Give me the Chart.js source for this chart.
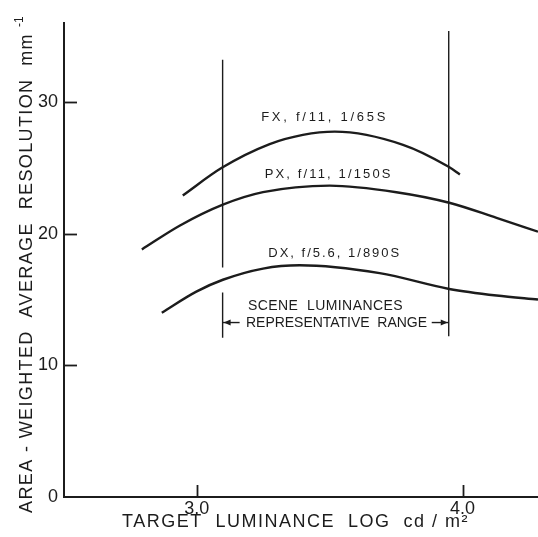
<!DOCTYPE html>
<html>
<head>
<meta charset="utf-8">
<script src="https://cdn.jsdelivr.net/npm/chart.js@4/dist/chart.umd.min.js"></script>
<style>
  html, body { margin: 0; padding: 0; background: #ffffff; }
  #wrap { width: 538px; height: 537px; }
</style>
</head>
<body>
<div id="wrap"><canvas id="c" width="538" height="537"></canvas></div>
<script>
// Target luminance (log cd/m2) and area-weighted average resolution (mm^-1)
const fxLum = [2.947, 3.094, 3.274, 3.399, 3.519, 3.776, 3.946, 3.990];
const fxRes = [22.9, 25.0, 26.8, 27.5, 27.75, 26.75, 25.1, 24.5];

const pxLum = [2.793, 2.935, 3.098, 3.249, 3.500, 3.751, 3.950, 4.128, 4.284];
const pxRes = [18.8, 20.6, 22.2, 23.15, 23.65, 23.15, 22.35, 21.2, 20.15];

const dxLum = [2.868, 2.998, 3.098, 3.249, 3.387, 3.688, 3.950, 4.128, 4.284];
const dxRes = [14.0, 15.6, 16.5, 17.35, 17.6, 17.0, 15.8, 15.3, 15.0];

const curveLabels = ['FX, f/11, 1/65S', 'PX, f/11, 1/150S', 'DX, f/5.6, 1/890S'];

// Representative range of scene luminances
const rangeLow = 3.097;
const rangeHigh = 3.948;

const xTickValues = [3.0, 4.0];
const yTickValues = [0, 10, 20, 30];

const xTitle = 'TARGET  LUMINANCE  LOG  cd / m²';
const yTitle = 'AREA - WEIGHTED  AVERAGE  RESOLUTION  mm';
const yTitleSup = '-1';
const rangeTitle1 = 'SCENE  LUMINANCES';
const rangeTitle2 = 'REPRESENTATIVE  RANGE';

const ink = '#1c1c1c';
const FONT = '"Liberation Sans", Arial, sans-serif';

const pts = (xs, ys) => xs.map((v, i) => ({ x: v, y: ys[i] }));

function curve(data) {
  return {
    data, borderColor: ink, borderWidth: 2.4, pointRadius: 0,
    cubicInterpolationMode: 'monotone', fill: false
  };
}
function rule(data) {
  return { data, borderColor: ink, borderWidth: 1.4, pointRadius: 0, tension: 0, fill: false };
}

// Draw text stretched with letter spacing so it spans a given width
function spaced(ctx, text, x0, y0, width) {
  ctx.letterSpacing = '0px';
  const w = ctx.measureText(text).width;
  const n = [...text].length;
  ctx.letterSpacing = ((width - w) / n) + 'px';
  ctx.textAlign = 'left';
  ctx.fillText(text, x0, y0);
  ctx.letterSpacing = '0px';
}

const annotate = {
  id: 'annotate',
  afterDatasetsDraw(chart) {
    const { ctx, chartArea: a, scales: { x, y } } = chart;
    ctx.save();
    ctx.strokeStyle = ink;
    ctx.fillStyle = ink;
    ctx.lineWidth = 1.8;

    // inward tick marks
    yTickValues.forEach(v => {
      if (v === 0) return;
      const py = Math.round(y.getPixelForValue(v)) + 0.5;
      ctx.beginPath(); ctx.moveTo(a.left, py); ctx.lineTo(a.left + 13, py); ctx.stroke();
    });
    xTickValues.forEach(v => {
      const px = Math.round(x.getPixelForValue(v)) + 0.5;
      ctx.beginPath(); ctx.moveTo(px, a.bottom); ctx.lineTo(px, a.bottom - 12); ctx.stroke();
    });

    // curve labels
    ctx.textBaseline = 'middle';
    ctx.font = '13px ' + FONT;
    const labelAt = [[3.481, 28.86, 127], [3.496, 24.47, 128], [3.519, 18.5, 133]];
    curveLabels.forEach((t, i) => {
      const [lx, ly, w] = labelAt[i];
      spaced(ctx, t, x.getPixelForValue(lx) - w / 2, y.getPixelForValue(ly), w);
    });

    // range caption and arrows
    ctx.font = '14px ' + FONT;
    spaced(ctx, rangeTitle1, 248, y.getPixelForValue(14.53), 155);
    spaced(ctx, rangeTitle2, 246, y.getPixelForValue(13.22), 181);
    const ay = y.getPixelForValue(13.25);
    const xl = x.getPixelForValue(rangeLow), xr = x.getPixelForValue(rangeHigh);
    ctx.lineWidth = 1.4;
    ctx.beginPath(); ctx.moveTo(xl, ay); ctx.lineTo(xl + 17, ay); ctx.stroke();
    ctx.beginPath(); ctx.moveTo(xr - 17, ay); ctx.lineTo(xr, ay); ctx.stroke();
    ctx.beginPath(); ctx.moveTo(xl + 1, ay); ctx.lineTo(xl + 8, ay - 3); ctx.lineTo(xl + 8, ay + 3); ctx.closePath(); ctx.fill();
    ctx.beginPath(); ctx.moveTo(xr - 1, ay); ctx.lineTo(xr - 8, ay - 3); ctx.lineTo(xr - 8, ay + 3); ctx.closePath(); ctx.fill();

    // axis titles
    ctx.font = '18px ' + FONT;
    ctx.textBaseline = 'middle';
    spaced(ctx, xTitle, 122, 522, 347);

    ctx.translate(27, 0);
    ctx.rotate(-Math.PI / 2);
    spaced(ctx, yTitle, -513, 0, 480);
    ctx.font = '12px ' + FONT;
    ctx.fillText(yTitleSup, -27, -7);
    ctx.restore();
  }
};

new Chart(document.getElementById('c'), {
  type: 'line',
  data: {
    datasets: [
      curve(pts(fxLum, fxRes)),
      curve(pts(pxLum, pxRes)),
      curve(pts(dxLum, dxRes)),
      rule([{ x: rangeLow, y: 33.2 }, { x: rangeLow, y: 17.43 }]),
      rule([{ x: rangeLow, y: 15.53 }, { x: rangeLow, y: 12.1 }]),
      rule([{ x: rangeHigh, y: 35.4 }, { x: rangeHigh, y: 12.2 }])
    ]
  },
  options: {
    responsive: false,
    animation: false,
    events: [],
    layout: { padding: { top: 23, right: 0, left: 0, bottom: 0 } },
    plugins: { legend: { display: false }, tooltip: { enabled: false } },
    scales: {
      x: {
        type: 'linear', min: 2.5, max: 4.284,
        grid: { display: false, drawTicks: false },
        border: { display: true, color: ink, width: 2 },
        afterBuildTicks: s => { s.ticks = xTickValues.map(v => ({ value: v })); },
        afterFit: s => { s.height = 40; },
        ticks: {
          color: ink, padding: 1, maxRotation: 0,
          font: { family: FONT, size: 18 },
          callback: v => Number(v).toFixed(1)
        }
      },
      y: {
        type: 'linear', min: 0, max: 36,
        grid: { display: false, drawTicks: false },
        border: { display: true, color: ink, width: 2 },
        afterBuildTicks: s => { s.ticks = yTickValues.map(v => ({ value: v })); },
        afterFit: s => { s.width = 64; },
        ticks: {
          color: ink, padding: 6,
          font: { family: FONT, size: 18 },
          callback: v => String(v)
        }
      }
    }
  },
  plugins: [annotate]
});
</script>
</body>
</html>
